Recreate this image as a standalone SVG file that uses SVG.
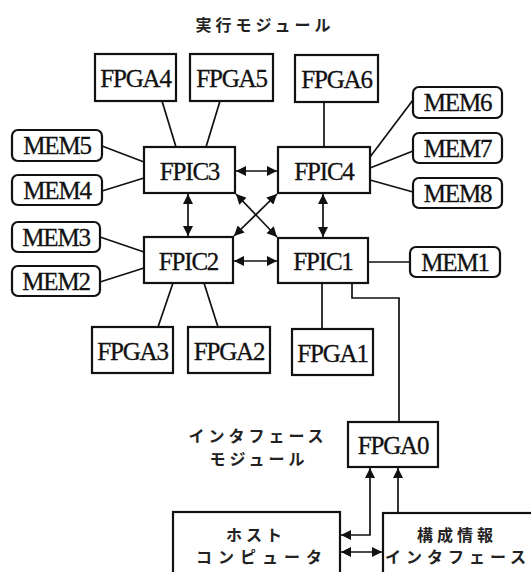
<svg xmlns="http://www.w3.org/2000/svg" width="531" height="572" viewBox="0 0 531 572">
<style>
.box{fill:#fff;stroke:#111;stroke-width:2.2}
.lbl{font-family:"Liberation Serif","Times New Roman",serif;font-size:25px;fill:#111;stroke:#111;stroke-width:0.3;text-anchor:middle;letter-spacing:-1.2px}
.jp{font-family:"Noto Sans CJK JP",sans-serif;font-size:16px;font-weight:600;fill:#222;text-anchor:middle;letter-spacing:4px}
.ln{fill:none;stroke:#111;stroke-width:1.7}
</style>
<defs>
<marker id="ah" viewBox="0 0 10 10" refX="10" refY="5" markerWidth="11" markerHeight="10" markerUnits="userSpaceOnUse" orient="auto-start-reverse">
<path d="M0,0 L10,5 L0,10 z" fill="#111"/>
</marker>
</defs>
<rect width="531" height="572" fill="#fff"/>
<text class="jp" x="265" y="31">実行モジュール</text>
<text class="jp" x="258" y="442">インタフェース</text>
<text class="jp" x="259" y="465">モジュール</text>

<g id="connectors">
<line class="ln" x1="162" y1="101" x2="176" y2="147"/>
<line class="ln" x1="220" y1="101" x2="206" y2="147"/>
<line class="ln" x1="324" y1="102" x2="324" y2="147"/>
<line class="ln" x1="102" y1="146" x2="144" y2="162"/>
<line class="ln" x1="102" y1="191" x2="144" y2="178"/>
<line class="ln" x1="413" y1="100" x2="370" y2="157"/>
<line class="ln" x1="413" y1="151" x2="370" y2="168"/>
<line class="ln" x1="413" y1="192" x2="370" y2="180"/>
<line class="ln" x1="100" y1="237" x2="144" y2="252"/>
<line class="ln" x1="100" y1="282" x2="144" y2="268"/>
<line class="ln" x1="410" y1="262" x2="368" y2="262"/>
<line class="ln" x1="158" y1="327" x2="173" y2="283"/>
<line class="ln" x1="218" y1="327" x2="204" y2="283"/>
<line class="ln" x1="322" y1="329" x2="322" y2="283"/>
<line class="ln" x1="236" y1="171" x2="277" y2="171" marker-start="url(#ah)" marker-end="url(#ah)"/>
<line class="ln" x1="234" y1="261" x2="277" y2="261" marker-start="url(#ah)" marker-end="url(#ah)"/>
<line class="ln" x1="188" y1="194" x2="188" y2="236" marker-start="url(#ah)" marker-end="url(#ah)"/>
<line class="ln" x1="323" y1="194" x2="323" y2="237" marker-start="url(#ah)" marker-end="url(#ah)"/>
<line class="ln" x1="236" y1="194" x2="277" y2="237" marker-start="url(#ah)" marker-end="url(#ah)"/>
<line class="ln" x1="277" y1="194" x2="234" y2="236" marker-start="url(#ah)" marker-end="url(#ah)"/>
<polyline class="ln" points="352,283 352,298 399,298 399,422"/>
<polyline class="ln" points="341,535 370,535 370,468" marker-start="url(#ah)" marker-end="url(#ah)"/>
<line class="ln" x1="398" y1="513" x2="398" y2="468" marker-end="url(#ah)"/>
<line class="ln" x1="341" y1="552" x2="382" y2="552" marker-start="url(#ah)" marker-end="url(#ah)"/>
</g>

<g id="FPGA4"><rect class="box" x="95" y="54" width="81" height="47"/><text class="lbl" x="135.5" y="87">FPGA4</text></g>
<g id="FPGA5"><rect class="box" x="190" y="54" width="83" height="47"/><text class="lbl" x="231.5" y="87">FPGA5</text></g>
<g id="FPGA6"><rect class="box" x="295" y="55" width="83" height="47"/><text class="lbl" x="336.5" y="88">FPGA6</text></g>
<g id="MEM6"><rect class="box" x="413" y="87" width="89" height="31" rx="6"/><text class="lbl" x="457.5" y="111">MEM6</text></g>
<g id="MEM5"><rect class="box" x="12" y="130" width="90" height="31" rx="6"/><text class="lbl" x="57" y="154">MEM5</text></g>
<g id="MEM7"><rect class="box" x="413" y="133" width="89" height="30" rx="6"/><text class="lbl" x="457.5" y="157">MEM7</text></g>
<g id="MEM4"><rect class="box" x="12" y="175" width="90" height="30" rx="6"/><text class="lbl" x="57" y="199">MEM4</text></g>
<g id="MEM8"><rect class="box" x="413" y="178" width="89" height="30" rx="6"/><text class="lbl" x="457.5" y="202">MEM8</text></g>
<g id="FPIC3"><rect class="box" x="144" y="147" width="91" height="46"/><text class="lbl" x="189.5" y="180">FPIC3</text></g>
<g id="FPIC4"><rect class="box" x="278" y="147" width="92" height="46"/><text class="lbl" x="324" y="180">FPIC4</text></g>
<g id="MEM3"><rect class="box" x="12" y="222" width="88" height="30" rx="6"/><text class="lbl" x="56" y="246">MEM3</text></g>
<g id="MEM2"><rect class="box" x="12" y="266" width="88" height="30" rx="6"/><text class="lbl" x="56" y="290">MEM2</text></g>
<g id="FPIC2"><rect class="box" x="144" y="237" width="89" height="46"/><text class="lbl" x="188.5" y="270">FPIC2</text></g>
<g id="FPIC1"><rect class="box" x="278" y="238" width="90" height="45"/><text class="lbl" x="323" y="270">FPIC1</text></g>
<g id="MEM1"><rect class="box" x="410" y="247" width="90" height="30" rx="6"/><text class="lbl" x="455" y="271">MEM1</text></g>
<g id="FPGA3"><rect class="box" x="92" y="327" width="81" height="46"/><text class="lbl" x="132.5" y="360">FPGA3</text></g>
<g id="FPGA2"><rect class="box" x="188" y="327" width="82" height="46"/><text class="lbl" x="229" y="360">FPGA2</text></g>
<g id="FPGA1"><rect class="box" x="292" y="329" width="81" height="46"/><text class="lbl" x="332.5" y="362">FPGA1</text></g>
<g id="FPGA0"><rect class="box" x="348" y="422" width="90" height="45"/><text class="lbl" x="393" y="454">FPGA0</text></g>
<g id="host"><rect class="box" x="173" y="512" width="167" height="70"/><text class="jp" x="256" y="541">ホスト</text><text class="jp" x="262" y="563" style="letter-spacing:6px">コンピュータ</text></g>
<g id="config"><rect class="box" x="383" y="513" width="160" height="70"/><text class="jp" x="457" y="541">構成情報</text><text class="jp" x="458" y="563" style="letter-spacing:5px">インタフェース</text></g>
</svg>
